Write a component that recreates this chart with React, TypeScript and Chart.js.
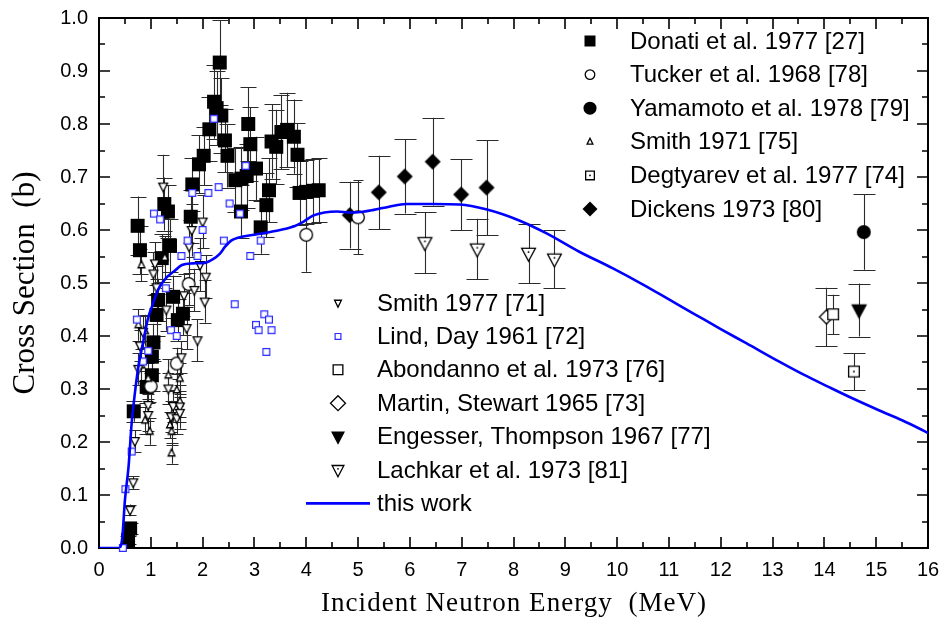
import React, { useEffect, useRef } from "react";
import { Chart, registerables } from "chart.js";

Chart.register(...registerables);

// ---------- axes ----------
const X_MIN = 0;
const X_MAX = 16;
const X_STEP = 1;
const Y_MIN = 0;
const Y_MAX = 1;
const Y_STEP = 0.1;
const X_TITLE = "Incident Neutron Energy  (MeV)";
const Y_TITLE = "Cross Section  (b)";

// ---------- data ----------
const donatiE = [0.56, 0.6, 0.67, 0.745, 0.79, 0.92, 1.02, 1.02, 1.05, 1.11, 1.14, 1.21, 1.26, 1.33, 1.37, 1.43, 1.52, 1.62, 1.77, 1.8, 1.93, 2.02, 2.13, 2.22, 2.27, 2.33, 2.36, 2.43, 2.48, 2.63, 2.74, 2.75, 2.85, 2.88, 2.92, 3.03, 3.12, 3.23, 3.28, 3.33, 3.42, 3.52, 3.63, 3.76, 3.83, 3.87, 4.0, 4.13, 4.24];
const donatiS = [0.015, 0.037, 0.258, 0.608, 0.562, 0.304, 0.326, 0.361, 0.388, 0.44, 0.468, 0.547, 0.649, 0.635, 0.57, 0.474, 0.43, 0.442, 0.625, 0.686, 0.724, 0.74, 0.79, 0.842, 0.83, 0.916, 0.816, 0.769, 0.74, 0.694, 0.635, 0.697, 0.702, 0.8, 0.762, 0.716, 0.605, 0.647, 0.675, 0.767, 0.757, 0.785, 0.789, 0.776, 0.742, 0.67, 0.672, 0.674, 0.675];
const donatiErr = [0.008, 0.01, 0.02, 0.055, 0.045, 0.03, 0.03, 0.03, 0.035, 0.04, 0.04, 0.045, 0.05, 0.05, 0.05, 0.04, 0.04, 0.04, 0.05, 0.05, 0.055, 0.055, 0.06, 0.07, 0.07, 0.08, 0.07, 0.06, 0.06, 0.06, 0.05, 0.06, 0.06, 0.07, 0.07, 0.06, 0.05, 0.06, 0.06, 0.07, 0.07, 0.07, 0.07, 0.07, 0.06, 0.06, 0.06, 0.06, 0.06];

const tuckerE = [1.0, 1.5, 1.73, 4.0, 5.0];
const tuckerS = [0.305, 0.348, 0.498, 0.591, 0.624];
const tuckerErr = [0.03, 0.03, 0.04, 0.07, 0.07];

const yamamotoE = [14.76];
const yamamotoS = [0.596];
const yamamotoErr = [0.071];

const smith71E = [0.76, 0.82, 0.82, 0.89, 0.89, 0.95, 0.98, 1.27, 1.34, 1.37, 1.4, 1.4, 1.5, 1.56, 1.56];
const smith71S = [0.421, 0.534, 0.345, 0.41, 0.241, 0.32, 0.22, 0.548, 0.326, 0.232, 0.179, 0.22, 0.298, 0.32, 0.277];
const smith71Err = [0.03, 0.03, 0.03, 0.03, 0.025, 0.03, 0.025, 0.04, 0.03, 0.025, 0.02, 0.025, 0.03, 0.03, 0.03];

const degtyarevE = [14.57];
const degtyarevS = [0.333];
const degtyarevErr = [0.035];

const dickensE = [4.84, 5.4, 5.9, 6.44, 6.99, 7.48];
const dickensS = [0.628, 0.671, 0.701, 0.729, 0.667, 0.68];
const dickensErr = [0.063, 0.069, 0.07, 0.083, 0.067, 0.09];

const smith77E = [0.6, 0.66, 0.69, 0.76, 0.79, 0.85, 0.95, 0.95, 1.05, 1.08, 1.11, 1.24, 1.3, 1.34, 1.39, 1.43, 1.5, 1.56, 1.56, 1.59, 1.64, 1.69, 1.74, 1.79, 1.84, 1.9, 1.95, 2.0, 2.04, 2.06];
const smith77S = [0.072, 0.124, 0.202, 0.338, 0.382, 0.408, 0.27, 0.251, 0.518, 0.537, 0.492, 0.682, 0.45, 0.301, 0.248, 0.268, 0.245, 0.267, 0.255, 0.36, 0.477, 0.415, 0.569, 0.6, 0.487, 0.392, 0.534, 0.616, 0.465, 0.512];
const smith77Err = [0.01, 0.012, 0.02, 0.03, 0.03, 0.03, 0.03, 0.03, 0.04, 0.04, 0.04, 0.06, 0.04, 0.03, 0.03, 0.03, 0.03, 0.03, 0.03, 0.03, 0.04, 0.04, 0.05, 0.05, 0.04, 0.04, 0.05, 0.05, 0.04, 0.04];

const lindE = [0.46, 0.51, 0.63, 0.73, 0.85, 0.95, 1.06, 1.18, 1.29, 1.39, 1.5, 1.59, 1.71, 1.8, 1.9, 2.0, 2.11, 2.22, 2.31, 2.41, 2.52, 2.62, 2.72, 2.83, 2.92, 3.03, 3.08, 3.12, 3.19, 3.23, 3.28, 3.33];
const lindS = [0.0, 0.111, 0.182, 0.431, 0.352, 0.372, 0.631, 0.62, 0.49, 0.411, 0.4, 0.551, 0.58, 0.67, 0.551, 0.6, 0.67, 0.81, 0.681, 0.58, 0.65, 0.46, 0.631, 0.721, 0.551, 0.421, 0.411, 0.58, 0.441, 0.37, 0.431, 0.411];

const abondannoE = [14.17];
const abondannoS = [0.441];
const abondannoErr = [0.037];

const martinE = [14.04];
const martinS = [0.436];
const martinErr = [0.055];

const engesserE = [14.67];
const engesserS = [0.449];
const engesserErr = [0.05];

const lachkarE = [6.29, 7.3, 8.29, 8.79];
const lachkarS = [0.576, 0.564, 0.556, 0.545];
const lachkarErr = [0.058, 0.057, 0.056, 0.055];

const curveE = [0, 0.4, 0.45, 0.5, 0.57, 0.63, 0.69, 0.76, 0.855, 0.95, 1.02, 1.14, 1.3, 1.45, 1.6, 1.8, 2.04, 2.2, 2.33, 2.43, 2.55, 2.7, 3.0, 3.4, 3.74, 3.95, 4.13, 4.35, 4.6, 4.84, 5.05, 5.3, 5.6, 5.93, 6.44, 6.96, 7.47, 8.11, 8.63, 9.27, 9.91, 10.5, 11, 11.5, 12, 12.5, 13.12, 13.6, 14.08, 14.55, 15.05, 15.5, 15.82, 16];
const curveS = [0, 0, 0.02, 0.09, 0.153, 0.235, 0.29, 0.342, 0.39, 0.435, 0.455, 0.487, 0.51, 0.522, 0.534, 0.537, 0.538, 0.545, 0.555, 0.568, 0.58, 0.586, 0.591, 0.598, 0.606, 0.616, 0.627, 0.633, 0.635, 0.633, 0.634, 0.638, 0.644, 0.649, 0.649, 0.648, 0.639, 0.618, 0.594, 0.559, 0.528, 0.497, 0.469, 0.441, 0.413, 0.386, 0.352, 0.327, 0.304, 0.282, 0.26, 0.241, 0.226, 0.217];

// ---------- legend texts ----------
const legendTopLabels = ["Donati et al. 1977 [27]", "Tucker et al. 1968 [78]", "Yamamoto et al. 1978 [79]", "Smith 1971 [75]", "Degtyarev et al. 1977 [74]", "Dickens 1973 [80]"];
const legendBottomLabels = ["Smith 1977 [71]", "Lind, Day 1961 [72]", "Abondanno et al. 1973 [76]", "Martin, Stewart 1965 [73]", "Engesser, Thompson 1967 [77]", "Lachkar et al. 1973 [81]", "this work"];

type Kind = "fsq" | "osq" | "dsq" | "bsq" | "ocirc" | "fcirc" | "utri" | "dtri" | "dtriDot" | "fdtri" | "fdia" | "odia";

const BLUE = "rgb(0,0,255)";

function drawMarker(ctx: CanvasRenderingContext2D, kind: Kind, x: number, y: number, s: number) {
  ctx.save();
  ctx.lineWidth = 1.3;
  ctx.strokeStyle = "#000";
  ctx.fillStyle = "#fff";
  const h = s / 2;
  const ht = s * 0.866;
  ctx.beginPath();
  switch (kind) {
    case "fsq":
      ctx.fillStyle = "#000";
      ctx.rect(x - h, y - h, s, s);
      ctx.fill();
      break;
    case "osq":
    case "dsq":
      ctx.rect(x - h + 0.65, y - h + 0.65, s - 1.3, s - 1.3);
      ctx.fill();
      ctx.stroke();
      if (kind === "dsq") {
        ctx.beginPath();
        ctx.fillStyle = "#000";
        ctx.arc(x, y, 0.9, 0, Math.PI * 2);
        ctx.fill();
      }
      break;
    case "bsq":
      ctx.strokeStyle = "#2a2aff";
      ctx.lineWidth = 1.2;
      ctx.rect(x - h + 0.6, y - h + 0.6, s - 1.2, s - 1.2);
      ctx.fill();
      ctx.stroke();
      break;
    case "ocirc":
      ctx.arc(x, y, h - 0.7, 0, Math.PI * 2);
      ctx.fill();
      ctx.stroke();
      break;
    case "fcirc":
      ctx.fillStyle = "#000";
      ctx.arc(x, y, h, 0, Math.PI * 2);
      ctx.fill();
      break;
    case "utri":
      ctx.moveTo(x, y - ht * 0.6);
      ctx.lineTo(x + h - 0.6, y + ht * 0.4);
      ctx.lineTo(x - h + 0.6, y + ht * 0.4);
      ctx.closePath();
      ctx.fill();
      ctx.stroke();
      break;
    case "dtri":
    case "dtriDot":
    case "fdtri":
      ctx.moveTo(x, y + ht * 0.6);
      ctx.lineTo(x + h - 0.6, y - ht * 0.4);
      ctx.lineTo(x - h + 0.6, y - ht * 0.4);
      ctx.closePath();
      if (kind === "fdtri") {
        ctx.fillStyle = "#000";
        ctx.fill();
        ctx.stroke();
      } else {
        ctx.fill();
        ctx.stroke();
      }
      if (kind === "dtriDot") {
        ctx.beginPath();
        ctx.fillStyle = "#000";
        ctx.arc(x, y - ht * 0.1, 0.9, 0, Math.PI * 2);
        ctx.fill();
      }
      break;
    case "fdia":
    case "odia":
      ctx.moveTo(x, y - h);
      ctx.lineTo(x + h, y);
      ctx.lineTo(x, y + h);
      ctx.lineTo(x - h, y);
      ctx.closePath();
      if (kind === "fdia") {
        ctx.fillStyle = "#000";
        ctx.fill();
      } else {
        ctx.fill();
        ctx.stroke();
      }
      break;
  }
  ctx.restore();
}

function makeMarker(kind: Kind, s: number): HTMLCanvasElement {
  const c = document.createElement("canvas");
  const n = Math.ceil(s + 4);
  c.width = n;
  c.height = n;
  const g = c.getContext("2d") as CanvasRenderingContext2D;
  drawMarker(g, kind, n / 2, n / 2, s);
  return c;
}

interface SeriesDef {
  label: string;
  xs: number[];
  ys: number[];
  errs?: number[];
  kind: Kind;
  size: number;
  cap: number;
}

// draw order: first entries end up on top
const seriesDefs: SeriesDef[] = [
  { label: legendBottomLabels[1], xs: lindE, ys: lindS, kind: "bsq", size: 8, cap: 0 },
  { label: legendBottomLabels[0], xs: smith77E, ys: smith77S, errs: smith77Err, kind: "dtri", size: 10, cap: 6 },
  { label: legendTopLabels[3], xs: smith71E, ys: smith71S, errs: smith71Err, kind: "utri", size: 8, cap: 6 },
  { label: legendTopLabels[1], xs: tuckerE, ys: tuckerS, errs: tuckerErr, kind: "ocirc", size: 14, cap: 5 },
  { label: legendTopLabels[5], xs: dickensE, ys: dickensS, errs: dickensErr, kind: "fdia", size: 16, cap: 11 },
  { label: legendBottomLabels[5], xs: lachkarE, ys: lachkarS, errs: lachkarErr, kind: "dtriDot", size: 15, cap: 11 },
  { label: legendTopLabels[2], xs: yamamotoE, ys: yamamotoS, errs: yamamotoErr, kind: "fcirc", size: 14, cap: 11 },
  { label: legendTopLabels[4], xs: degtyarevE, ys: degtyarevS, errs: degtyarevErr, kind: "dsq", size: 12, cap: 11 },
  { label: legendBottomLabels[2], xs: abondannoE, ys: abondannoS, errs: abondannoErr, kind: "osq", size: 12, cap: 6 },
  { label: legendBottomLabels[4], xs: engesserE, ys: engesserS, errs: engesserErr, kind: "fdtri", size: 15, cap: 11 },
  { label: legendBottomLabels[3], xs: martinE, ys: martinS, errs: martinErr, kind: "odia", size: 14, cap: 11 },
  { label: legendTopLabels[0], xs: donatiE, ys: donatiS, errs: donatiErr, kind: "fsq", size: 14, cap: 8 },
];

const legendTopKinds: Kind[] = ["fsq", "ocirc", "fcirc", "utri", "dsq", "fdia"];
const legendTopSizes = [11, 11, 13, 7, 10, 15];
const legendBottomKinds: Kind[] = ["dtri", "bsq", "osq", "odia", "fdtri", "dtriDot"];
const legendBottomSizes = [8, 7, 11, 15, 13, 13];

export default function App() {
  const ref = useRef<HTMLCanvasElement | null>(null);

  useEffect(() => {
    const canvas = ref.current;
    if (!canvas) return;

    const pointDatasets = seriesDefs.map((d, i) => ({
      type: "scatter" as const,
      label: d.label,
      data: d.xs.map((x, j) => ({ x, y: d.ys[j] })),
      errs: d.errs,
      cap: d.cap,
      pointStyle: makeMarker(d.kind, d.size),
      pointRadius: 5,
      pointHoverRadius: 5,
      showLine: false,
      clip: false as const,
      order: 1 + i,
    }));

    const curveDataset = {
      type: "scatter" as const,
      label: legendBottomLabels[6],
      data: curveE.map((x, j) => ({ x, y: curveS[j] })),
      showLine: true,
      borderColor: BLUE,
      borderWidth: 2.6,
      pointRadius: 0,
      cubicInterpolationMode: "monotone" as const,
      order: 0,
    };

    const errorBars = {
      id: "errorBars",
      beforeDatasetsDraw(chart: any) {
        const ctx = chart.ctx as CanvasRenderingContext2D;
        const xs = chart.scales.x;
        const ys = chart.scales.y;
        ctx.save();
        ctx.strokeStyle = "#2b2b2b";
        ctx.lineWidth = 1.1;
        chart.data.datasets.forEach((ds: any) => {
          if (!ds.errs) return;
          ds.data.forEach((p: any, j: number) => {
            const e = ds.errs[j];
            const px = Math.round(xs.getPixelForValue(p.x)) + 0.5;
            const yt = ys.getPixelForValue(p.y + e);
            const yb = ys.getPixelForValue(p.y - e);
            ctx.beginPath();
            ctx.moveTo(px, yt);
            ctx.lineTo(px, yb);
            if (ds.cap > 0) {
              ctx.moveTo(px - ds.cap, Math.round(yt) + 0.5);
              ctx.lineTo(px + ds.cap, Math.round(yt) + 0.5);
              ctx.moveTo(px - ds.cap, Math.round(yb) + 0.5);
              ctx.lineTo(px + ds.cap, Math.round(yb) + 0.5);
            }
            ctx.stroke();
          });
        });
        ctx.restore();
      },
    };

    const frame = {
      id: "frame",
      beforeDatasetsDraw(chart: any) {
        const ctx = chart.ctx as CanvasRenderingContext2D;
        const a = chart.chartArea;
        const xs = chart.scales.x;
        const ys = chart.scales.y;
        ctx.save();
        ctx.strokeStyle = "#000";
        ctx.lineWidth = 2;
        ctx.strokeRect(a.left, a.top, a.right - a.left, a.bottom - a.top);
        ctx.lineWidth = 1.6;
        ctx.beginPath();
        for (let k = 0; k <= (X_MAX - X_MIN) / (X_STEP / 2); k++) {
          const v = X_MIN + (k * X_STEP) / 2;
          const len = k % 2 === 0 ? 11 : 6;
          const px = Math.round(xs.getPixelForValue(v));
          ctx.moveTo(px, a.bottom);
          ctx.lineTo(px, a.bottom - len);
          ctx.moveTo(px, a.top);
          ctx.lineTo(px, a.top + len);
        }
        for (let k = 0; k <= Math.round((Y_MAX - Y_MIN) / (Y_STEP / 2)); k++) {
          const v = Y_MIN + (k * Y_STEP) / 2;
          const len = k % 2 === 0 ? 11 : 6;
          const py = Math.round(ys.getPixelForValue(v));
          ctx.moveTo(a.left, py);
          ctx.lineTo(a.left + len, py);
          ctx.moveTo(a.right, py);
          ctx.lineTo(a.right - len, py);
        }
        ctx.stroke();
        ctx.restore();
      },
    };

    const annotations = {
      id: "annotations",
      afterDraw(chart: any) {
        const ctx = chart.ctx as CanvasRenderingContext2D;
        const a = chart.chartArea;
        ctx.save();
        ctx.fillStyle = "#000";
        // y title
        ctx.save();
        ctx.font = "31px 'Liberation Serif', 'Times New Roman', serif";
        ctx.translate(34, (a.top + a.bottom) / 2);
        ctx.rotate(-Math.PI / 2);
        ctx.textAlign = "center";
        ctx.textBaseline = "alphabetic";
        ctx.fillText(Y_TITLE, 0, 0);
        ctx.restore();
        // x title
        ctx.save();
        ctx.font = "27px 'Liberation Serif', 'Times New Roman', serif";
        const w0 = ctx.measureText(X_TITLE).width;
        const target = 385;
        const ls = Math.max(0, (target - w0) / (X_TITLE.length - 1));
        (ctx as any).letterSpacing = ls.toFixed(2) + "px";
        ctx.textAlign = "left";
        ctx.textBaseline = "alphabetic";
        const wUsed = w0 + ls * (X_TITLE.length - 1);
        ctx.fillText(X_TITLE, (a.left + a.right) / 2 - wUsed / 2, 611);
        ctx.restore();

        // legends
        ctx.font = "24px 'Liberation Sans', Arial, sans-serif";
        ctx.textBaseline = "middle";
        ctx.textAlign = "left";
        legendTopLabels.forEach((t, i) => {
          const y = 41 + i * 33.6;
          drawMarker(ctx, legendTopKinds[i], 590, y, legendTopSizes[i]);
          ctx.fillStyle = "#000";
          ctx.fillText(t, 630, y + 1);
        });
        legendBottomLabels.forEach((t, i) => {
          const y = 303 + i * 33.4;
          if (i < legendBottomKinds.length) {
            drawMarker(ctx, legendBottomKinds[i], 338, y, legendBottomSizes[i]);
          } else {
            ctx.strokeStyle = BLUE;
            ctx.lineWidth = 2.6;
            ctx.beginPath();
            ctx.moveTo(306, y);
            ctx.lineTo(370, y);
            ctx.stroke();
          }
          ctx.fillStyle = "#000";
          ctx.fillText(t, 377, y + 1);
        });
        ctx.restore();
      },
    };

    const chart = new Chart(canvas, {
      type: "scatter",
      data: { datasets: [curveDataset as any, ...(pointDatasets as any[])] },
      options: {
        animation: false,
        responsive: false,
        devicePixelRatio: 1,
        events: [],
        layout: { padding: { top: 18, right: 14, left: 0, bottom: 0 } },
        plugins: { legend: { display: false }, tooltip: { enabled: false } },
        scales: {
          x: {
            type: "linear",
            min: X_MIN,
            max: X_MAX,
            grid: { display: false, drawTicks: false },
            border: { display: false },
            ticks: {
              stepSize: X_STEP,
              autoSkip: false,
              maxRotation: 0,
              padding: 10,
              color: "#000",
              font: { family: "'Liberation Sans', Arial, sans-serif", size: 20 },
            },
            afterFit(scale: any) {
              scale.height = 76;
              scale.paddingLeft = 0;
              scale.paddingRight = 0;
            },
          },
          y: {
            type: "linear",
            min: Y_MIN,
            max: Y_MAX,
            grid: { display: false, drawTicks: false },
            border: { display: false },
            ticks: {
              stepSize: Y_STEP,
              padding: 11,
              color: "#000",
              font: { family: "'Liberation Sans', Arial, sans-serif", size: 20 },
              callback: (v: any) => Number(v).toFixed(1),
            },
            afterFit(scale: any) {
              scale.width = 99;
              scale.paddingTop = 0;
              scale.paddingBottom = 0;
            },
          },
        },
      },
      plugins: [frame, errorBars, annotations],
    } as any);

    return () => chart.destroy();
  }, []);

  return (
    <div style={{ position: "absolute", left: 0, top: 0, width: 942, height: 624, background: "#fff" }}>
      <canvas ref={ref} width={942} height={624} style={{ display: "block", width: 942, height: 624 }} />
    </div>
  );
}
